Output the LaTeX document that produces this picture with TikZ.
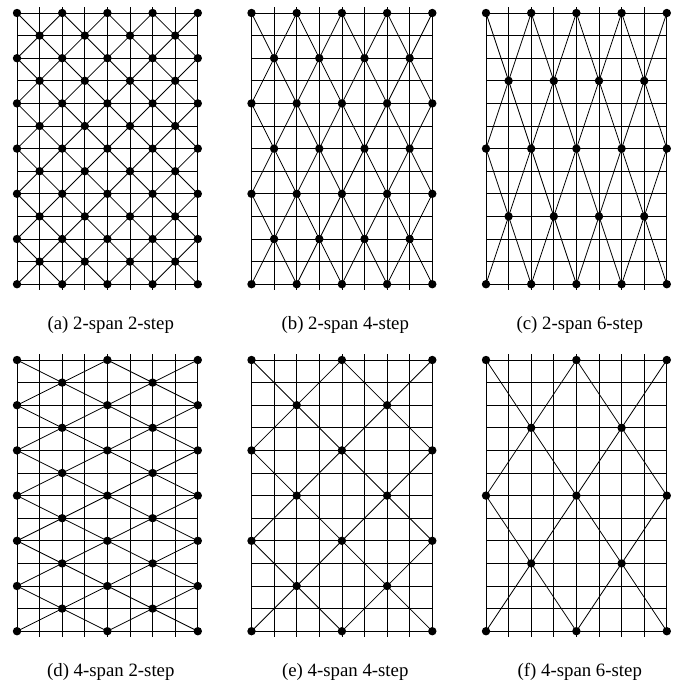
\documentclass[tikz,border=0pt]{standalone}
\usepackage{fontspec}
\setmainfont{Liberation Serif}

\begin{document}
\begin{tikzpicture}[x=1pt,y=-1pt,
  gridline/.style={line width=0.8pt},
  diag/.style={line width=0.8pt},
  dot/.style={circle,fill=black,inner sep=0pt,minimum size=8.4pt},
  caption/.style={anchor=base,inner sep=0pt,font=\fontsize{18.8}{22}\selectfont}]
\useasboundingbox (0,0) rectangle (680,683);
% #1 name, #2 left, #3 top, #4 span, #5 step, #6 caption
\def\lattice#1#2#3#4#5#6{%
\begin{scope}[xshift=#2pt,yshift=-#3pt,x=22.6pt,y=-22.6pt]
  \foreach \ri in {0,...,12} \draw[gridline] (0,\ri) -- (8,\ri);
  \foreach \ci in {1,...,7} \draw[gridline] (\ci,-0.25) -- (\ci,12.25);
  \draw[gridline] (0,0) -- (0,12) (8,0) -- (8,12);
  \pgfmathtruncatemacro\hspan{#4/2}
  \pgfmathtruncatemacro\hstep{#5/2}
  \pgfmathtruncatemacro\nrows{12/\hstep}
  % joints
  \foreach \ri in {0,...,\nrows}{
    \pgfmathtruncatemacro\yy{\ri*\hstep}
    \pgfmathtruncatemacro\cofs{mod(\ri,2)*\hspan}
    \pgfmathtruncatemacro\cnext{\cofs+#4}
    \foreach \ci in {\cofs,\cnext,...,8}
      \node[dot] (#1-\ci-\yy) at (\ci,\yy) {};
  }
  % bracing members
  \foreach \ri in {1,...,\nrows}{
    \pgfmathtruncatemacro\ya{(\ri-1)*\hstep}
    \pgfmathtruncatemacro\yb{\ri*\hstep}
    \pgfmathtruncatemacro\cofs{mod(\ri,2)*\hspan}
    \pgfmathtruncatemacro\cnext{\cofs+#4}
    \foreach \ci in {\cofs,\cnext,...,8}{
      \pgfmathtruncatemacro\cleft{\ci-\hspan}
      \pgfmathtruncatemacro\cright{\ci+\hspan}
      \ifnum\cleft>-1\relax \draw[diag] (#1-\cleft-\ya.center) -- (#1-\ci-\yb.center);\fi
      \ifnum\cright<9\relax \draw[diag] (#1-\cright-\ya.center) -- (#1-\ci-\yb.center);\fi
    }
  }
  \node[caption] (#1-cap) at (4.15,14) {#6};
\end{scope}}
\lattice{a}{17}{13}{2}{2}{(a) 2-span 2-step}
\lattice{b}{251.5}{13}{2}{4}{(b) 2-span 4-step}
\lattice{c}{486}{13}{2}{6}{(c) 2-span 6-step}
\lattice{d}{17}{360}{4}{2}{(d) 4-span 2-step}
\lattice{e}{251.5}{360}{4}{4}{(e) 4-span 4-step}
\lattice{f}{486}{360}{4}{6}{(f) 4-span 6-step}
\end{tikzpicture}
\end{document}
